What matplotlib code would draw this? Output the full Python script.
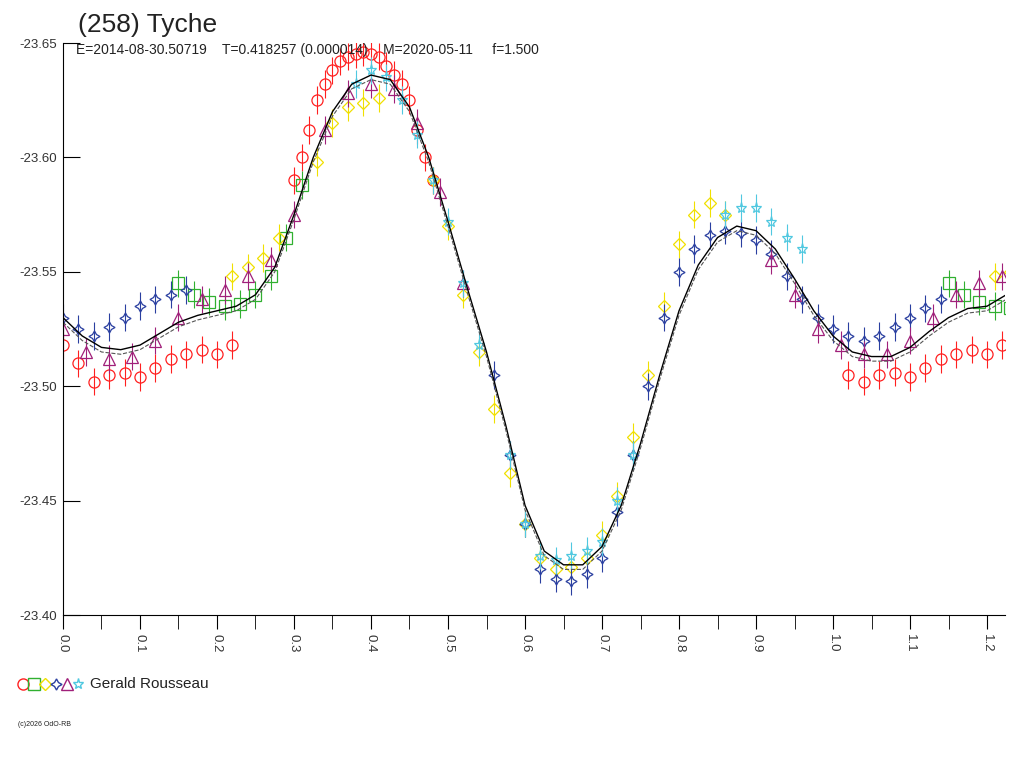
"""Lightcurve of (258) Tyche: phased observations with the Fourier fit."""
from __future__ import annotations

import matplotlib

matplotlib.use("Agg")
import matplotlib.pyplot as plt

TITLE = "(258) Tyche"
SUBTITLE = "E=2014-08-30.50719    T=0.418257 (0.000014)    M=2020-05-11     f=1.500"
OBSERVER = "Gerald Rousseau"

fit_x = [0.000, 0.025, 0.050, 0.075, 0.100, 0.125, 0.150, 0.175, 0.200, 0.225,
         0.250, 0.275, 0.300, 0.325, 0.350, 0.375, 0.400, 0.425, 0.450, 0.475,
         0.500, 0.525, 0.550, 0.575, 0.600, 0.625, 0.650, 0.675, 0.700, 0.725,
         0.750, 0.775, 0.800, 0.825, 0.850, 0.875, 0.900, 0.925, 0.950, 0.975,
         1.000, 1.025, 1.050, 1.075, 1.100, 1.125, 1.150, 1.175, 1.200, 1.225]
fit_y = [-23.530, -23.522, -23.517, -23.516, -23.518, -23.523, -23.528, -23.531, -23.533, -23.535,
         -23.540, -23.552, -23.575, -23.600, -23.620, -23.632, -23.636, -23.634, -23.622, -23.600,
         -23.572, -23.543, -23.515, -23.483, -23.448, -23.428, -23.422, -23.422, -23.430, -23.448,
         -23.475, -23.505, -23.533, -23.553, -23.565, -23.570, -23.568, -23.560, -23.547, -23.533,
         -23.522, -23.515, -23.513, -23.513, -23.517, -23.524, -23.530, -23.534, -23.535, -23.540]

red_x = [0.0, 0.02, 0.04, 0.06, 0.08, 0.10, 0.12, 0.14, 0.16, 0.18, 0.20, 0.22,
         0.30, 0.31, 0.32, 0.33, 0.34, 0.35, 0.36, 0.37, 0.38, 0.39, 0.40, 0.41,
         0.42, 0.43, 0.44, 0.45, 0.46, 0.47, 0.48,
         1.02, 1.04, 1.06, 1.08, 1.10, 1.12, 1.14, 1.16, 1.18, 1.20, 1.22]
red_y = [-23.518, -23.510, -23.502, -23.505, -23.506, -23.504, -23.508, -23.512, -23.514, -23.516, -23.514, -23.518,
         -23.590, -23.600, -23.612, -23.625, -23.632, -23.638, -23.642, -23.644, -23.645, -23.646, -23.645, -23.644,
         -23.640, -23.636, -23.632, -23.625, -23.612, -23.600, -23.590,
         -23.505, -23.502, -23.505, -23.506, -23.504, -23.508, -23.512, -23.514, -23.516, -23.514, -23.518]

green_x = [0.15, 0.17, 0.19, 0.21, 0.23, 0.25, 0.27, 0.29, 0.31, 1.15, 1.17, 1.19, 1.21, 1.23]
green_y = [-23.545, -23.540, -23.537, -23.535, -23.536, -23.540, -23.548, -23.565, -23.588,
           -23.545, -23.540, -23.537, -23.535, -23.534]

yellow_x = [0.22, 0.24, 0.26, 0.28, 0.33, 0.35, 0.37, 0.39, 0.41, 0.48, 0.50, 0.52, 0.54, 0.56,
            0.58, 0.60, 0.62, 0.64, 0.66, 0.68, 0.70, 0.72, 0.74, 0.76, 0.78, 0.80, 0.82, 0.84,
            0.86, 1.21, 1.23]
yellow_y = [-23.548, -23.552, -23.556, -23.565, -23.598, -23.615, -23.622, -23.624, -23.626, -23.590,
            -23.570, -23.540, -23.515, -23.490, -23.462, -23.440, -23.425, -23.420, -23.421, -23.425,
            -23.435, -23.452, -23.478, -23.505, -23.535, -23.562, -23.575, -23.580, -23.575, -23.548,
            -23.550]

blue_x = [0.0, 0.02, 0.04, 0.06, 0.08, 0.10, 0.12, 0.14, 0.16,
          0.56, 0.58, 0.60, 0.62, 0.64, 0.66, 0.68, 0.70, 0.72, 0.74, 0.76, 0.78, 0.80, 0.82,
          0.84, 0.86, 0.88, 0.90, 0.92, 0.94, 0.96, 0.98, 1.00, 1.02, 1.04, 1.06, 1.08, 1.10,
          1.12, 1.14]
blue_y = [-23.530, -23.525, -23.522, -23.526, -23.530, -23.535, -23.538, -23.540, -23.542,
          -23.505, -23.470, -23.440, -23.420, -23.416, -23.415, -23.418, -23.425, -23.445, -23.470,
          -23.500, -23.530, -23.550, -23.560, -23.566, -23.568, -23.567, -23.564, -23.558, -23.548,
          -23.538, -23.530, -23.525, -23.522, -23.520, -23.522, -23.526, -23.530, -23.534, -23.538]

magenta_x = [0.0, 0.03, 0.06, 0.09, 0.12, 0.15, 0.18, 0.21, 0.24, 0.27, 0.30,
             0.34, 0.37, 0.40, 0.43, 0.46, 0.49, 0.52,
             0.92, 0.95, 0.98, 1.01, 1.04, 1.07, 1.10, 1.13, 1.16, 1.19, 1.22]
magenta_y = [-23.525, -23.515, -23.512, -23.513, -23.520, -23.530, -23.538, -23.542, -23.548, -23.555, -23.575,
             -23.612, -23.628, -23.632, -23.630, -23.615, -23.585, -23.545,
             -23.555, -23.540, -23.525, -23.518, -23.514, -23.514, -23.520, -23.530, -23.540, -23.545, -23.548]

cyan_x = [0.38, 0.40, 0.42, 0.44, 0.46, 0.48, 0.50, 0.52, 0.54, 0.58, 0.60, 0.62,
          0.64, 0.66, 0.68, 0.70, 0.72, 0.74, 0.86, 0.88, 0.90, 0.92, 0.94, 0.96]
cyan_y = [-23.632, -23.638, -23.635, -23.625, -23.610, -23.590, -23.572, -23.545, -23.518, -23.470,
          -23.440, -23.426, -23.424, -23.426, -23.428, -23.432, -23.450, -23.470, -23.575, -23.578,
          -23.578, -23.572, -23.565, -23.560]

x_ticks = [0.0, 0.1, 0.2, 0.3, 0.4, 0.5, 0.6, 0.7, 0.8, 0.9, 1.0, 1.1, 1.2]
y_ticks = [-23.65, -23.60, -23.55, -23.50, -23.45, -23.40]

SERIES = [  # (x, y, marker, colour)
    (red_x, red_y, "o", "#ff2020"),
    (green_x, green_y, "s", "#30b030"),
    (yellow_x, yellow_y, "D", "#f0e000"),
    (blue_x, blue_y, (4, 1, 0), "#2a3fa0"),
    (magenta_x, magenta_y, "^", "#a0207a"),
    (cyan_x, cyan_y, "*", "#50c8e0"),
]


def chart(out_png: str) -> None:
    plt.rcParams["font.family"] = "Liberation Sans"
    fig = plt.figure(figsize=(10.24, 7.68), dpi=100)
    ax = fig.add_axes([0.0615, 0.199, 0.92, 0.745])
    for xs, ys, marker, colour in SERIES:
        ax.errorbar(xs, ys, yerr=0.006, fmt="none", ecolor=colour, elinewidth=0.8)
        ax.plot(xs, ys, linestyle="none", marker=marker, markersize=8 if marker != "D" else 6,
                markerfacecolor="none", markeredgecolor=colour, markeredgewidth=0.9)
    ax.plot(fit_x, fit_y, color="black", lw=1.0)
    ax.plot(fit_x, [v + 0.002 for v in fit_y], color="#555555", lw=0.8, ls="--")

    ax.set_xlim(0, 1.2234)
    ax.set_ylim(-23.40, -23.65)  # magnitudes: bright up
    ax.set_xticks(x_ticks)
    ax.set_xticks([t + 0.05 for t in x_ticks[:-1]], minor=True)
    ax.set_xticklabels([f"{t:.1f}" for t in x_ticks], rotation=270, fontsize=9.5, color="#333")
    ax.set_yticks(y_ticks)
    ax.set_yticklabels([f"{t:.2f}" for t in y_ticks], fontsize=9.5, color="#333")
    ax.tick_params(axis="x", which="both", length=10, direction="out")
    ax.tick_params(axis="y", length=12, direction="in", pad=4)
    for side in ("top", "right"):
        ax.spines[side].set_visible(False)

    fig.text(0.076, 0.958, TITLE, fontsize=19, color="#222")
    fig.text(0.074, 0.93, SUBTITLE, fontsize=10, color="#222")
    # legend row of markers, then the observer's name
    lx = 0.022
    for _, _, marker, colour in SERIES:
        fig.lines.append(plt.Line2D([lx], [0.11], marker=marker, markersize=8 if marker != "D" else 6,
                                    markerfacecolor="none", markeredgecolor=colour,
                                    transform=fig.transFigure, linestyle="none"))
        lx += 0.0108
    fig.text(0.088, 0.11, OBSERVER, fontsize=11, color="#222", va="center")
    fig.text(0.018, 0.055, "(c)2026 OdO-RB", fontsize=5, color="#222")
    fig.savefig(out_png, dpi=100)


def main() -> int:
    chart("out.png")
    return 0


if __name__ == "__main__":
    raise SystemExit(main())
